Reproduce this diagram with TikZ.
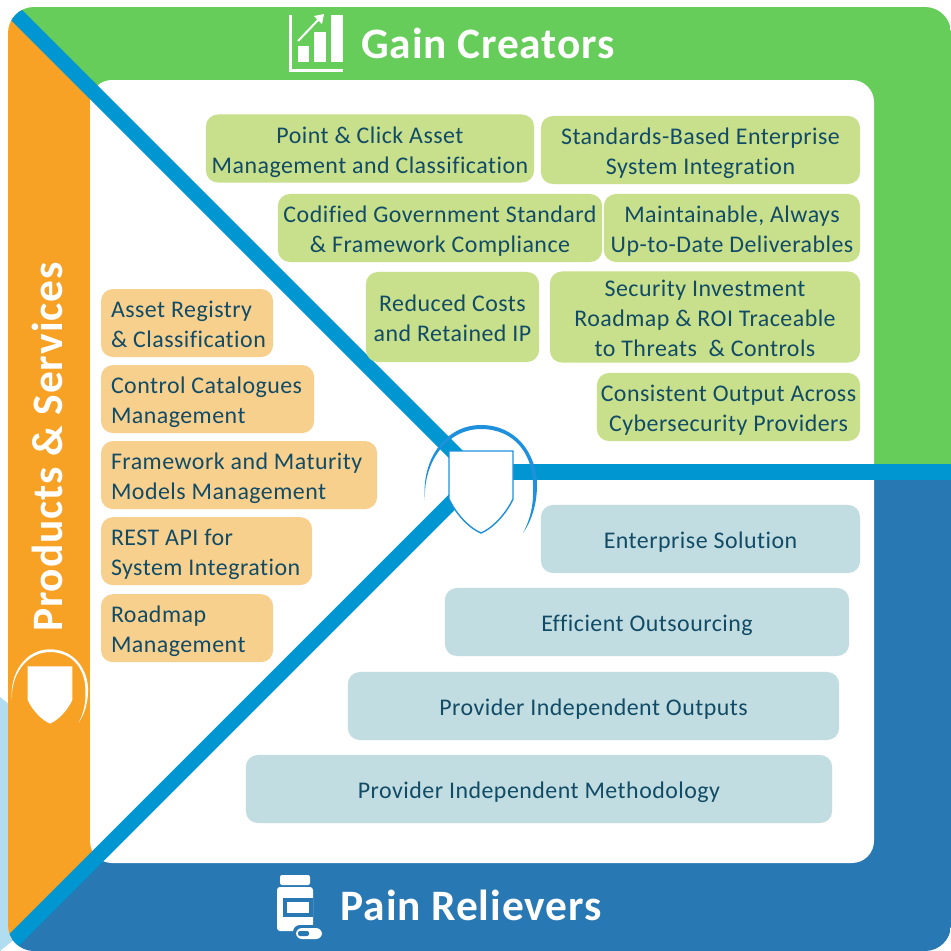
\documentclass[tikz,border=0pt]{standalone}
\usepackage{fontspec}
\setmainfont[LetterSpace=2,Ligatures=NoCommon]{Carlito}
\usepackage{tikz}
\usetikzlibrary{positioning}

\definecolor{gaingreen}{HTML}{66CC5A}
\definecolor{prodorange}{HTML}{F7A125}
\definecolor{painblue}{HTML}{2878B3}
\definecolor{linkblue}{HTML}{0096D1}
\definecolor{boxgreen}{HTML}{C8DF8B}
\definecolor{boxorange}{HTML}{F8D08E}
\definecolor{boxblue}{HTML}{C1DDE1}
\definecolor{paleblue}{HTML}{B0DDF0}
\definecolor{boxtext}{HTML}{114B66}
\definecolor{arcblue}{HTML}{1E90DC}

\begin{document}
\begin{tikzpicture}
[x=0.01cm, y=-0.01cm,
listbox/.style={rectangle, rounded corners=0.12cm, text=boxtext, minimum height=0.68cm, inner sep=0pt, outer sep=0pt, align=flush center, font=\fontsize{6.8}{8.5}\selectfont, execute at begin node={\rule{0pt}{7.2pt}}, execute at end node={\rule[-1.7pt]{0pt}{0pt}}},
gainbox/.style={listbox, fill=boxgreen},
prodbox/.style={listbox, fill=boxorange, anchor=north west, align=flush left, inner xsep=0.1cm},
painbox/.style={listbox, fill=boxblue},
headline/.style={text=white, inner sep=0pt, font=\fontsize{12.35}{14}\selectfont\bfseries},
link/.style={draw=linkblue, line width=0.15cm},
pics/shieldmark/.style={code={
  \fill[#1] (-56,49) .. controls (-60,9) and (-36,-26) .. (0,-26) .. controls (36,-26) and (56,4) .. (56,34) .. controls (56,54) and (50,71) .. (42,82) .. controls (49,69) and (53,54) .. (52,34) .. controls (52,4) and (34,-22) .. (0,-22) .. controls (-34,-22) and (-58,11) .. (-56,49) -- cycle;
  \path[fill=white, draw=#1] (-32,0) -- (32,0) -- (32,48) .. controls (24,65) and (10,78) .. (0,82) .. controls (-10,78) and (-24,65) .. (-32,48) -- cycle;
}},
]
\useasboundingbox (0,0) rectangle (951,951);

% backdrop
\fill[paleblue] (0,697) -- (10,705) -- (16,938) -- (0,951) -- cycle;

\begin{scope}
\clip[rounded corners=0.26cm] (8,7) rectangle (951,951);
\fill[gaingreen] (0,0) -- (951,0) -- (951,472) -- (478,476) -- cycle;
\fill[prodorange] (0,0) -- (478,476) -- (0,951) -- cycle;
\fill[painblue] (0,951) -- (478,476) -- (951,472) -- (951,951) -- cycle;
\fill[white, rounded corners=0.22cm] (90,80) rectangle (874,863);
\coordinate (nwend) at (0,-1.5);
\coordinate (nwhub) at (460,458.5);
\coordinate (swend) at (0,954);
\coordinate (swhub) at (460,494);
\coordinate (eend) at (951,472);
\coordinate (ehub) at (510,472);
\draw[link] (nwend) -- (nwhub);
\draw[link] (swend) -- (swhub);
\draw[link, line width=0.16cm] (eend) -- (ehub);
\end{scope}

% gain creators
\node[gainbox, text width=3.28cm] (pointclick) at (370,148.5) {Point \& Click Asset\\Management and Classification};
\node[gainbox, text width=3.19cm] (standards) at (700.5,150) {Standards-Based Enterprise\\System Integration};
\node[gainbox, text width=3.24cm] (codified) at (440,228) {Codified Government Standard\\\& Framework Compliance};
\node[gainbox, text width=2.56cm] (maintain) at (732,228) {Maintainable, Always\\Up-to-Date Deliverables};
\node[gainbox, text width=1.73cm, minimum height=0.9cm] (costs) at (452.5,317) {Reduced Costs\\and Retained IP};
\node[gainbox, text width=3.10cm, minimum height=0.9cm] (roadmap) at (705,317) {Security Investment\\Roadmap \& ROI Traceable\\to Threats~ \& Controls};
\node[gainbox, text width=2.63cm] (consistent) at (728.5,407) {Consistent Output Across\\Cybersecurity Providers};

% products and services
\node[prodbox, text width=1.52cm] (registry) at (101,289) {Asset Registry\\\mbox{\& Classification}};
\node[prodbox, text width=1.93cm] (catalogue) [below=0.08cm of registry.south west, anchor=north west] {Control Catalogues\\Management};
\node[prodbox, text width=2.56cm] (framework) [below=0.08cm of catalogue.south west, anchor=north west] {Framework and Maturity\\Models Management};
\node[prodbox, text width=1.91cm] (restapi) [below=0.08cm of framework.south west, anchor=north west] {REST API for\\System Integration};
\node[prodbox, text width=1.52cm] (roadmgmt) [below=0.09cm of restapi.south west, anchor=north west] {Roadmap\\Management};

% pain relievers
\node[painbox, text width=3.19cm] (enterprise) at (700.5,539) {Enterprise Solution};
\node[painbox, text width=4.04cm] (outsourcing) at (647,622) {Efficient Outsourcing};
\node[painbox, text width=4.91cm] (outputs) at (593.5,706) {Provider Independent Outputs};
\node[painbox, text width=5.86cm] (method) at (539,789) {Provider Independent Methodology};

% titles
\node[headline] (gaintitle) at (488,43) {Gain Creators};
\node[headline] (paintitle) at (471,905) {Pain Relievers};
\node[headline, rotate=90] (prodtitle) at (47.5,447) {Products \& Services};

% chart icon
\draw[white, line width=0.03cm] (290.5,15) -- (290.5,70) -- (343,70);
\fill[white] (298,46) rectangle (309,62);
\fill[white] (314,32) rectangle (326,62);
\fill[white] (331,15) rectangle (343,62);
\draw[white, line width=0.02cm] (298,41) -- (320,18);
\fill[white] (324,14) -- (322,24) -- (314,16) -- cycle;

% bottle icon
\fill[white, rounded corners=0.02cm] (280,875) rectangle (310,885);
\fill[white, rounded corners=0.03cm] (277,887) rectangle (313,931);
\fill[painblue] (283,898) rectangle (313,917);
\fill[white] (287,902) rectangle (309,913);
\fill[painblue, rounded corners=0.07cm] (293,925) rectangle (325,941);
\fill[white, rounded corners=0.06cm] (296,928) rectangle (322,939);
\fill[painblue, rounded corners=0.02cm] (298,931) rectangle (309,936);

% shields
\pic (hubshield) at (481,451) {shieldmark=arcblue};
\pic[scale=0.68] (prodshield) at (50,667) {shieldmark=white};
\end{tikzpicture}
\end{document}
